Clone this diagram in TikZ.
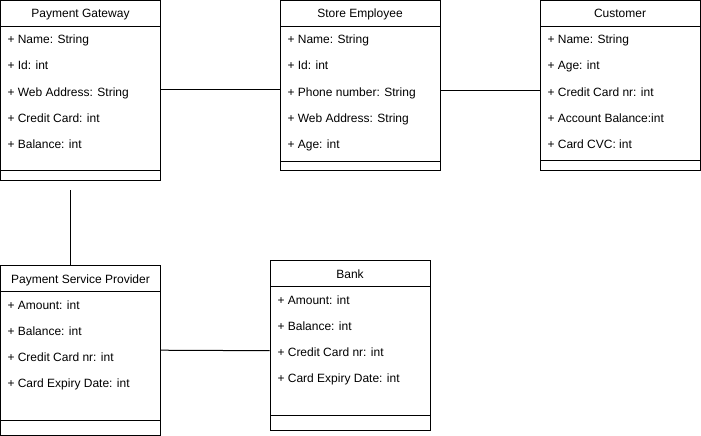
\documentclass[tikz,border=0pt]{standalone}
\usepackage{fontspec}
\setmainfont{Liberation Sans}
\begin{document}
\begin{tikzpicture}[x=1pt,y=-1pt,line width=1pt,
    font=\fontsize{12pt}{14pt}\selectfont,
    classtitle/.style={draw,minimum width=160pt,minimum height=26pt,inner sep=0pt,text height=9pt,text depth=0pt},
    classpart/.style={draw,minimum width=160pt,inner sep=0pt},
    attr/.style={anchor=base west,inner sep=0pt}]
      \useasboundingbox (0,0) rectangle (701,436);
      % Payment Gateway
      \draw
        (80.5,13.5) node[classtitle] (pgt){Payment Gateway}
        (80.5,98.5) node[classpart,minimum height=144pt] (pgb){}
        (80.5,175.5) node[classpart,minimum height=10pt] (pgf){}
        (7,44) node[attr] (pgname){+ Name: String}
        (7,70) node[attr] (pgid){+ Id: int}
        (7,96) node[attr] (pgweb){+ Web Address: String}
        (7,122) node[attr] (pgcard){+ Credit Card: int}
        (7,148) node[attr] (pgbal){+ Balance: int};
      % Store Employee
      \draw
        (360,13.5) node[classtitle] (set){Store Employee}
        (360,94) node[classpart,minimum height=135pt] (seb){}
        (360,166) node[classpart,minimum height=9pt] (sef){}
        (287,44) node[attr] (sename){+ Name: String}
        (287,70) node[attr] (seid){+ Id: int}
        (287,96) node[attr] (sephone){+ Phone number: String}
        (287,122) node[attr] (seweb){+ Web Address: String}
        (287,148) node[attr] (seage){+ Age: int};
      % Customer
      \draw
        (620,13.5) node[classtitle] (cut){Customer}
        (620,93.5) node[classpart,minimum height=134pt] (cub){}
        (620,165.5) node[classpart,minimum height=10pt] (cuf){}
        (547,44) node[attr] (cuname){+ Name: String}
        (547,70) node[attr] (cuage){+ Age: int}
        (547,96) node[attr] (cucard){+ Credit Card nr: int}
        (547,122) node[attr] (cuacc){+ Account Balance:int}
        (547,148) node[attr] (cucvc){+ Card CVC: int};
      % Payment Service Provider
      \draw
        (80.5,278.5) node[classtitle] (pspt){Payment Service Provider}
        (80.5,356) node[classpart,minimum height=129pt] (pspb){}
        (80.5,428) node[classpart,minimum height=15pt] (pspf){}
        (7,309.5) node[attr] (pspamt){+ Amount: int}
        (7,335.5) node[attr] (pspbal){+ Balance: int}
        (7,361.5) node[attr] (pspcard){+ Credit Card nr: int}
        (7,387.5) node[attr] (pspexp){+ Card Expiry Date: int};
      % Bank
      \draw
        (350,273.5) node[classtitle] (bkt){Bank}
        (350,351) node[classpart,minimum height=129pt] (bkb){}
        (350,423) node[classpart,minimum height=15pt] (bkf){}
        (277,304) node[attr] (bkamt){+ Amount: int}
        (277,330) node[attr] (bkbal){+ Balance: int}
        (277,356) node[attr] (bkcard){+ Credit Card nr: int}
        (277,382) node[attr] (bkexp){+ Card Expiry Date: int};
      \coordinate (pgend) at (70.5,190);
      \begin{scope}[-]
        \draw ([yshift=3pt]pgb.east |- pgweb) to ([yshift=3pt]seb.west |- pgweb);
        \draw ([yshift=2pt]seb.east |- sephone) to ([yshift=2pt]cub.west |- sephone);
        \draw (pgend) to (pgend |- pspt.north);
        \draw ([yshift=7pt]pspb.east |- pspcard) to ([yshift=1pt]bkb.west |- bkcard);
      \end{scope}
    \end{tikzpicture}
\end{document}
